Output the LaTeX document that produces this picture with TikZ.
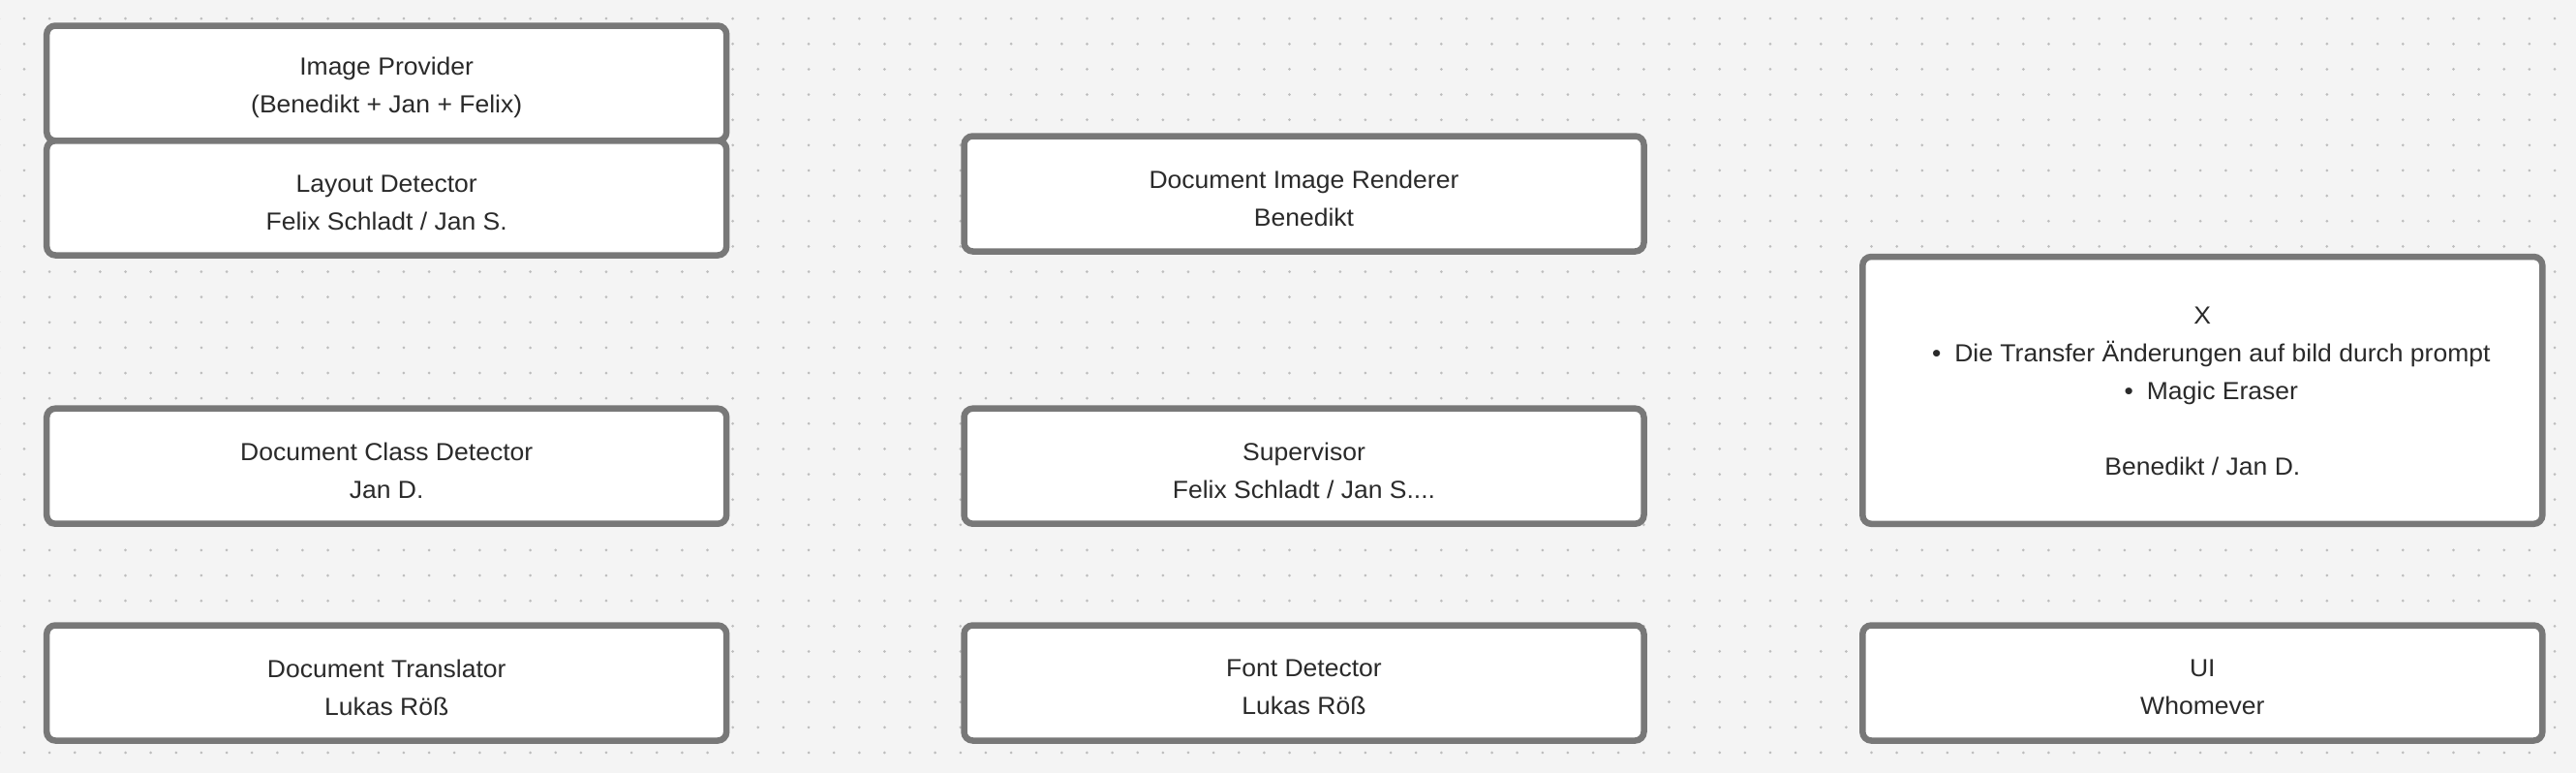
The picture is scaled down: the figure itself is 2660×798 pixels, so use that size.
\documentclass[tikz,border=0pt]{standalone}
\usepackage{fontspec}
\setmainfont{Liberation Sans}[FakeStretch=1.04]
\definecolor{bgc}{HTML}{F4F4F4}
\definecolor{dotc}{HTML}{BDBDBD}
\definecolor{boxc}{HTML}{787878}
\definecolor{txtc}{HTML}{2A2A2A}
\tikzset{
  card/.style={draw=boxc, line width=6.5pt, fill=white, rounded corners=9pt,
    minimum width=702pt, minimum height=119pt, inner sep=0pt, outer sep=0pt},
  cardtext/.style={align=center, text=txtc, inner sep=0pt,
    font=\fontsize{25.5}{39}\selectfont},
  twoline/.style={cardtext, yshift=-4.5pt},
}
\begin{document}
\begin{tikzpicture}[x=1pt,y=-1pt]
\useasboundingbox (0,0) rectangle (2660,798);
\fill[bgc] (0,0) rectangle (2660,798);
\fill[dotc] \foreach \i in {-1,...,100} { \foreach \j in {0,...,29} { ({25+26.13*\i},{19.2+26.13*\j}) circle (1.5) } };

\node[card, minimum height=118.8pt] (ip) at (399.2,85.9) {};
\node[twoline] (ipt) at (ip.center) {Image Provider\\(Benedikt + Jan + Felix)};
\node[card, minimum height=118.2pt] (ld) at (399.2,204.4) {};
\node[twoline] (ldt) at (ld.center) {Layout Detector\\Felix Schladt / Jan S.};
\node[card] (dcd) at (399.2,481.2) {};
\node[twoline] (dcdt) at (dcd.center) {Document Class Detector\\Jan D.};
\node[card] (dt) at (399.2,705) {};
\node[twoline] (dtt) at (dt.center) {Document Translator\\Lukas Röß};

\node[card] (dir) at (1346.5,200) {};
\node[twoline] (dirt) at (dir.center) {Document Image Renderer\\Benedikt};
\node[card] (sup) at (1346.5,481.2) {};
\node[twoline] (supt) at (sup.center) {Supervisor\\Felix Schladt / Jan S....};
\node[card] (fd) at (1346.5,705) {};
\node[twoline] (fdt) at (fd.center) {Font Detector\\Lukas Röß};

\node[card, minimum height=275.8pt] (x) at (2274.3,402.9) {};
\node[cardtext, yshift=-0.5pt] (xt) at (x.center) {X\\\hspace*{18pt}\textbullet\hspace{14pt}Die Transfer Änderungen auf bild durch prompt\\\hspace*{18pt}\textbullet\hspace{14pt}Magic Eraser\\[39pt]Benedikt / Jan D.};
\node[card] (ui) at (2274.3,705) {};
\node[twoline] (uit) at (ui.center) {UI\\Whomever};
\end{tikzpicture}
\end{document}
